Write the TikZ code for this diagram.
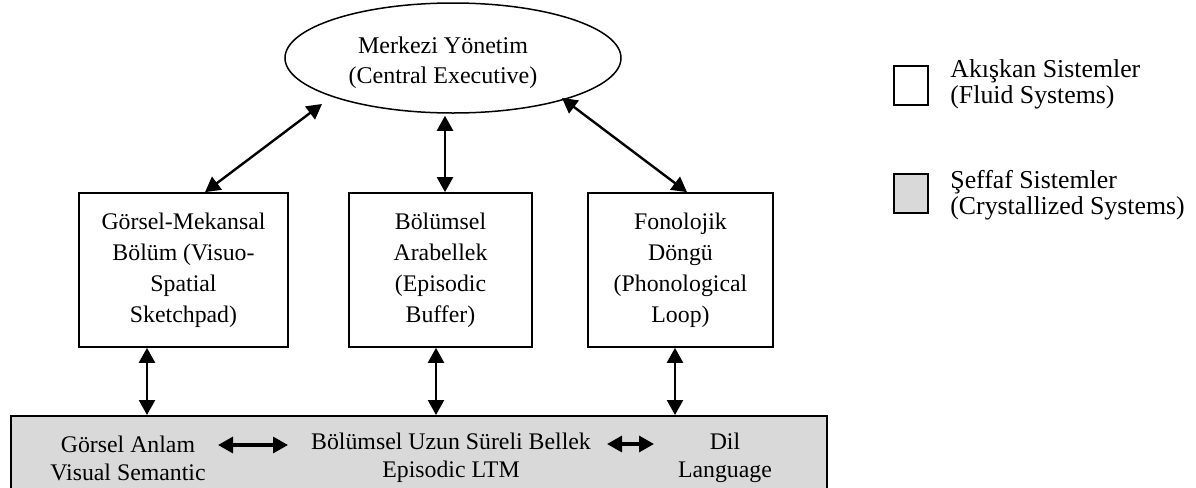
\documentclass[tikz,border=0pt]{standalone}
\usepackage{fontspec}
\setmainfont{Liberation Serif}
\usetikzlibrary{arrows.meta,calc,shapes.geometric}
\definecolor{crys}{RGB}{217,217,217}
\begin{document}
\begin{tikzpicture}[x=0.5pt,y=-0.5pt,
  txt/.style={font=\fontsize{11.9}{15.5}\selectfont, align=center, inner sep=0pt},
  sysbox/.style={draw, line width=0.85pt, minimum height=77pt, inner sep=0pt, txt},
  tip/.tip={Triangle[length=7.5pt,width=8pt]},
  dbl/.style={tip-tip, line width=1.2pt},
  hdbl/.style={tip-tip, line width=1.6pt},
  graytxt/.style={txt, font=\fontsize{11.9}{14}\selectfont},
  legtxt/.style={txt, align=left, anchor=west, font=\fontsize{12.9}{13}\selectfont},
  legbox/.style={draw, line width=0.85pt, minimum width=17pt, minimum height=19.5pt, inner sep=0pt, anchor=north west},
  ]
\path[use as bounding box] (0,0) rectangle (1196,488);

% central executive
\node[ellipse, draw, line width=0.75pt, minimum width=168pt, minimum height=55pt, inner sep=0pt] (ce) at (453,58) {};
\node[txt, font=\fontsize{12}{15}\selectfont] (cet) at (443,63) {Merkezi Yönetim\\(Central Executive)};

% subsystems
\node[sysbox, minimum width=104.5pt] (b1) at (183.5,270) {Görsel-Mekansal\\Bölüm (Visuo-\\Spatial\\Sketchpad)};
\node[sysbox, minimum width=91.5pt] (b2) at (440.5,270) {Bölümsel\\Arabellek\\(Episodic\\Buffer)};
\node[sysbox, minimum width=92.5pt] (b3) at (680.5,270) {Fonolojik\\Döngü\\(Phonological\\Loop)};

% long-term memory band
\node[draw, fill=crys, line width=0.85pt, minimum width=408pt, minimum height=38.5pt, inner sep=0pt, anchor=north west] (ltm) at (10,415) {};
\node[graytxt] (vs) at (128,458) {Görsel Anlam\\Visual Semantic};
\node[graytxt] (ep) at (451,458) {Bölümsel Uzun Süreli Bellek\\Episodic LTM};
\node[graytxt] (dl) at (725,458) {Dil\\Language};

% arrows to central executive
\coordinate (u1) at ($(b1.north)+(21.5,0)$);
\coordinate (e1) at ($(ce.center)+(-131,46)$);
\coordinate (u2) at ($(b2.north)+(4.5,0)$);
\coordinate (u3) at ($(b3.north)+(6.5,0)$);
\coordinate (e3) at ($(ce.center)+(109,40)$);
\draw[dbl] (u1) -- (e1);
\draw[dbl] (u2) -- ([yshift=-1pt]u2 |- ce.south);
\draw[dbl] (u3) -- (e3);

% arrows to long-term memory
\coordinate (l1) at ($(b1.south)+(-36.5,0)$);
\coordinate (l2) at ($(b2.south)+(-4.5,0)$);
\coordinate (l3) at ($(b3.south)+(-5.5,0)$);
\draw[dbl] (l1) -- (l1 |- ltm.north);
\draw[dbl] (l2) -- (l2 |- ltm.north);
\draw[dbl] (l3) -- (l3 |- ltm.north);

% arrows inside the band
\coordinate (h1a) at (218,445);
\coordinate (h1b) at (288,445);
\coordinate (h2a) at (607,444);
\coordinate (h2b) at (654,444);
\draw[hdbl] (h1a) -- (h1b);
\draw[hdbl] (h2a) -- (h2b);

% legend
\node[legbox] (lf) at (893,65) {};
\node[legtxt] (lft) at (950,84) {Akışkan Sistemler\\(Fluid Systems)};
\node[legbox, fill=crys] (lc) at (893,173) {};
\node[legtxt] (lct) at (950,195) {Şeffaf Sistemler\\(Crystallized Systems)};
\end{tikzpicture}
\end{document}
